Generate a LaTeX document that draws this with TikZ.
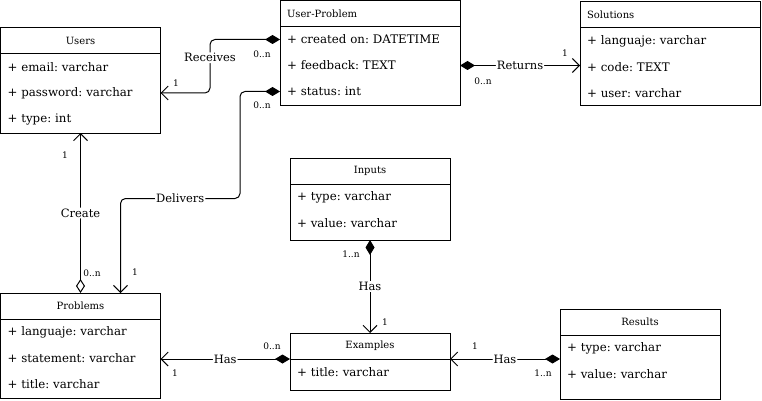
\documentclass[tikz,border=0pt]{standalone}
\usepackage{fontspec}
\setmainfont{DejaVu Serif}
\frenchspacing
\usetikzlibrary{positioning, arrows.meta}

\tikzset{
  classhead/.style={draw, line width=1pt, minimum height=26, minimum width=160, inner sep=0, outer sep=0, font=\fontsize{10}{11}\selectfont},
  classbody/.style={draw, line width=1pt, minimum width=160, inner sep=0, outer sep=0},
  field/.style={minimum height=26, text width=146pt, inner xsep=7, inner ysep=0, outer sep=0, align=left, font=\fontsize{11.8}{13}\selectfont},
  wide/.style={minimum width=180, text width=166pt},
  mult/.style={inner sep=0, font=\fontsize{9}{10}\selectfont},
  rel/.style={fill=white, inner sep=1, font=\fontsize{11.5}{12}\selectfont},
  link/.style={line width=1pt, rounded corners=5},
  compo/.style={link, {Diamond[length=15pt, width=9pt]}-{Straight Barb[length=7pt, width=14pt]}},
  aggr/.style={link, {Diamond[open, length=14pt, width=9pt]}-{Straight Barb[length=7pt, width=14pt]}}
}

\begin{document}
\begin{tikzpicture}[x=1pt, y=-1pt]
  \useasboundingbox (0,0) rectangle (762,401);

  % Users
  \node[classhead, anchor=north west] (users) at (0.5,28) {Users};
  \node[classbody, minimum height=79, below=0 of users] (users-b) {};
  \node[field, below=0 of users] (users-1) {+ email: varchar};
  \node[field, below=0 of users-1] (users-2) {+ password: varchar};
  \node[field, below=0 of users-2] (users-3) {+ type: int};

  % User-Problem
  \node[classhead, wide, anchor=north west] (up) at (280,0.5) {User-Problem};
  \node[classbody, wide, minimum height=79, below=0 of up] (up-b) {};
  \node[field, wide, below=0 of up] (up-1) {+ created on: DATETIME};
  \node[field, wide, below=0 of up-1] (up-2) {+ feedback: TEXT};
  \node[field, wide, below=0 of up-2] (up-3) {+ status: int};

  % Solutions
  \node[classhead, wide, anchor=north west] (sol) at (580,2) {Solutions};
  \node[classbody, wide, minimum height=78, below=0 of sol] (sol-b) {};
  \node[field, wide, below=0 of sol] (sol-1) {+ languaje: varchar};
  \node[field, wide, below=0 of sol-1] (sol-2) {+ code: TEXT};
  \node[field, wide, below=0 of sol-2] (sol-3) {+ user: varchar};

  % Inputs
  \node[classhead, anchor=north west] (in) at (290,158) {Inputs};
  \node[classbody, minimum height=56, below=0 of in] (in-b) {};
  \node[field, below=0 of in] (in-1) {+ type: varchar};
  \node[field, below=0 of in-1] (in-2) {+ value: varchar};

  % Problems
  \node[classhead, anchor=north west] (prob) at (0.5,293) {Problems};
  \node[classbody, minimum height=79, below=0 of prob] (prob-b) {};
  \node[field, below=0 of prob] (prob-1) {+ languaje: varchar};
  \node[field, below=0 of prob-1] (prob-2) {+ statement: varchar};
  \node[field, below=0 of prob-2] (prob-3) {+ title: varchar};

  % Examples
  \node[classhead, anchor=north west] (ex) at (290,333) {Examples};
  \node[classbody, minimum height=31, below=0 of ex] (ex-b) {};
  \node[field, below=0 of ex] (ex-1) {+ title: varchar};

  % Results
  \node[classhead, anchor=north west] (res) at (560,309) {Results};
  \node[classbody, minimum height=64, below=0 of res] (res-b) {};
  \node[field, below=0 of res] (res-1) {+ type: varchar};
  \node[field, below=0 of res-1] (res-2) {+ value: varchar};

  % relations
  \draw[compo] (up-1.west) -- ++(-70,0) |- node[rel, pos=0.17] {Receives} (users-2.east);
  \draw[compo] (up-3.west) -- ++(-40,0) -- ++(0,107) -| node[rel, pos=0.25] {Delivers} ([xshift=40pt]prob.north);
  \draw[compo] (up-2.east) -- node[rel] {Returns} (up-2.east -| sol-2.west);
  \draw[aggr] (prob.north) -- node[rel] {Create} (users-b.south);
  \draw[compo] (in-b.south) -- node[rel] {Has} (ex.north);
  \draw[compo] (ex.south west) -- node[rel] {Has} (ex.south west -| prob-2.east);
  \draw[compo] (res-b.west |- ex.south east) -- node[rel] {Has} (ex.south east);

  % multiplicities
  \node[mult] (m-rec-a) at (262,54) {0..n};
  \node[mult] (m-rec-b) at (176,83) {1};
  \node[mult] (m-del-a) at (262,105) {0..n};
  \node[mult] (m-del-b) at (135,272) {1};
  \node[mult] (m-ret-a) at (483,81) {0..n};
  \node[mult] (m-ret-b) at (565,53) {1};
  \node[mult] (m-cre-a) at (92,273) {0..n};
  \node[mult] (m-cre-b) at (65,155) {1};
  \node[mult] (m-inp-a) at (351,254) {1..n};
  \node[mult] (m-inp-b) at (385,322) {1};
  \node[mult] (m-exa-a) at (272,346) {0..n};
  \node[mult] (m-exa-b) at (175,373) {1};
  \node[mult] (m-res-a) at (543,373) {1..n};
  \node[mult] (m-res-b) at (475,346) {1};
\end{tikzpicture}
\end{document}
